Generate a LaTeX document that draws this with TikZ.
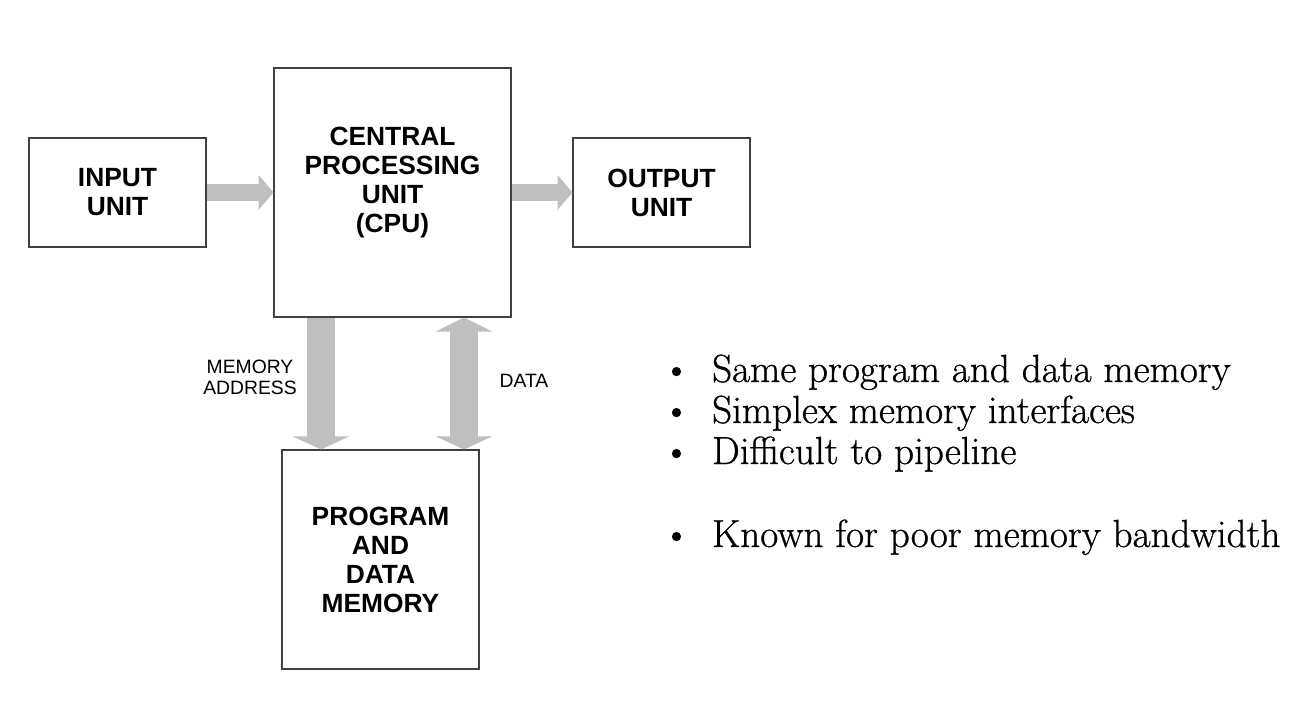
\documentclass[tikz,border=0pt]{standalone}
\usepackage{fontspec}
\newfontfamily\arialfont{Liberation Sans}
\newfontfamily\pointfont[FakeBold=0.8]{Latin Modern Roman}
\usetikzlibrary{arrows.meta}
\begin{document}
\begin{tikzpicture}[x=0.02cm,y=-0.02cm,
    unit_box/.style={draw=black!75,line width=0.6pt,align=center,
        font=\arialfont\bfseries\fontsize{15}{16.5}\selectfont},
    small_lbl/.style={align=center,font=\arialfont\fontsize{11}{12}\selectfont},
    bus/.style={draw=gray!50,line width=10pt},
    wide_bus/.style={draw=gray!50,line width=16pt},
    point_lbl/.style={anchor=base west,inner sep=0pt,font=\pointfont\fontsize{22.3}{24}\selectfont}]
    \useasboundingbox (0,0) rectangle (1296,720);
    \node[unit_box,minimum width=3.54cm,minimum height=2.18cm] (inp) at (117.5,192.5) {INPUT\\UNIT};
    \node[unit_box,minimum width=4.74cm,minimum height=4.98cm,
        label={[unit_box,draw=none,yshift=0.2cm]center:CENTRAL\\PROCESSING\\UNIT\\(CPU)}] (cpu) at (392.5,192.5) {};
    \node[unit_box,minimum width=3.54cm,minimum height=2.18cm] (out) at (661.5,192.5) {OUTPUT\\UNIT};
    \node[unit_box,minimum width=3.94cm,minimum height=4.38cm] (mem) at (380.5,559.5) {PROGRAM\\AND\\DATA\\MEMORY};
    \draw[bus,-{Triangle[length=8.5pt,width=19.4pt]}] (inp) -- (cpu);
    \draw[bus,-{Triangle[length=8.5pt,width=19.4pt]}] (cpu) -- (out);
    \draw[wide_bus,-{Triangle[length=7.5pt,width=32pt]}] (cpu.south -| 321,0) -- (mem.north -| 321,0);
    \draw[wide_bus,{Triangle[length=8pt,width=32pt]}-{Triangle[length=7.5pt,width=32pt]}] (cpu.south -| 464,0) -- (mem.north -| 464,0);
    \node[small_lbl] (addr) at (250,377) {MEMORY\\ADDRESS};
    \node[small_lbl] (data) at (524,381) {DATA};
    \node[point_lbl] (p1) at (662,382) {\textbullet\hspace{0.55em}Same program and data memory};
    \node[point_lbl] (p2) at (662,423) {\textbullet\hspace{0.55em}Simplex memory interfaces};
    \node[point_lbl] (p3) at (662,464) {\textbullet\hspace{0.55em}Difficult to pipeline};
    \node[point_lbl] (p4) at (662,547) {\textbullet\hspace{0.55em}Known for poor memory bandwidth};
\end{tikzpicture}
\end{document}
